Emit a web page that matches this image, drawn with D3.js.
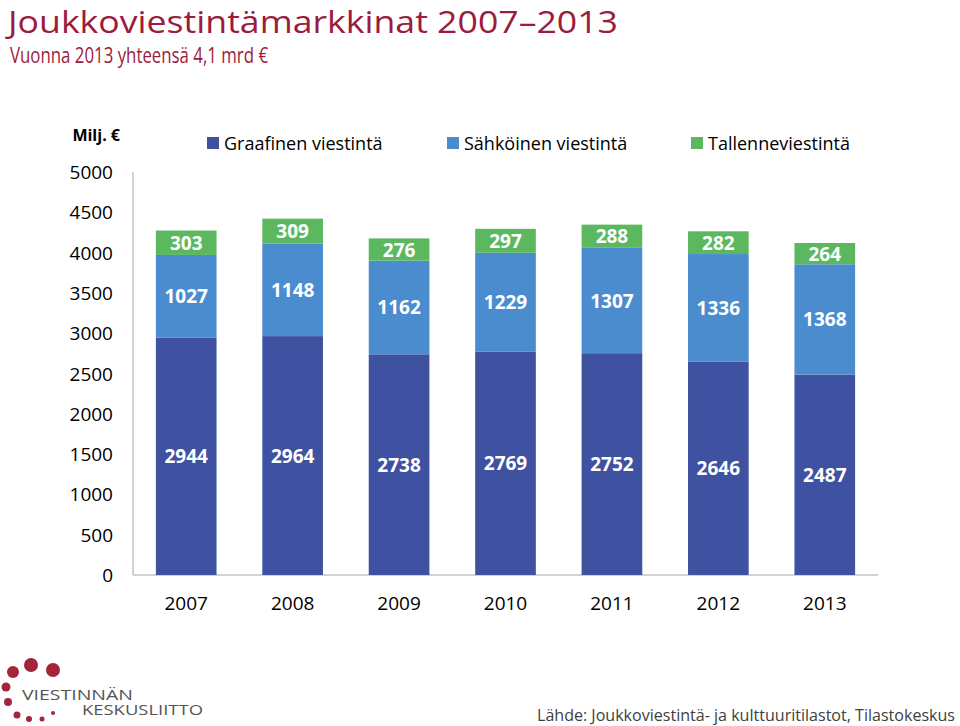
<!DOCTYPE html>
<html>
<head>
<meta charset="utf-8">
<script src="https://cdn.jsdelivr.net/npm/d3@7"></script>
<style>
  body { margin: 0; background: #fff; }
  svg { display: block; font-family: "Open Sans", sans-serif; }
</style>
</head>
<body>
<script>
(function() {
	"use strict";
	const YEARS = ["2007", "2008", "2009", "2010", "2011", "2012", "2013"],
	   GRAAFINEN = [2944, 2964, 2738, 2769, 2752, 2646, 2487],
	   SAHKOINEN = [1027, 1148, 1162, 1229, 1307, 1336, 1368],
	   TALLENNE = [303, 309, 276, 297, 288, 282, 264],
	   SERIES = ["Graafinen viestintä", "Sähköinen viestintä", "Tallenneviestintä"],
	   Y_TICKS = [0, 500, 1000, 1500, 2000, 2500, 3000, 3500, 4000, 4500, 5000];
	const COLORS = ["#3f52a2", "#4b8ccf", "#5cb85f"];

	const svg_w = 960, svg_h = 726;
	const svg = d3.select("body").append("svg").attr("width", svg_w).attr("height", svg_h);

	// title
	svg.append("text").text("Joukkoviestintämarkkinat 2007–2013")
		.attr("x", 8).attr("y", 33).attr("fill", "#9b1c3d")
		.attr("font-size", 31).attr("textLength", 610).attr("lengthAdjust", "spacingAndGlyphs");
	svg.append("text").text("Vuonna 2013 yhteensä 4,1 mrd €")
		.attr("x", 10).attr("y", 63).attr("fill", "#9b1c3d")
		.attr("font-size", 21).attr("textLength", 258).attr("lengthAdjust", "spacingAndGlyphs");

	const left = 133, right = 878, bottom = 575, top = 172;
	const x = d3.scaleBand().domain(YEARS).range([left, right]).paddingInner(0.43).paddingOuter(0.215);
	const y = d3.scaleLinear().domain([0, 5000]).range([bottom, top]);

	const rows = YEARS.map((yr, i) => ({ year: yr, g: GRAAFINEN[i], s: SAHKOINEN[i], t: TALLENNE[i] }));
	const stack = d3.stack().keys(["g", "s", "t"])(rows);

	// axes lines
	svg.append("line").attr("x1", left).attr("x2", left).attr("y1", top).attr("y2", bottom)
		.attr("stroke", "#a6a6a6").attr("stroke-width", 1);
	svg.append("line").attr("x1", left).attr("x2", right).attr("y1", bottom).attr("y2", bottom)
		.attr("stroke", "#a6a6a6").attr("stroke-width", 1);

	svg.selectAll("text.ytick").data(Y_TICKS).enter().append("text")
		.attr("class", "ytick").text(d => d)
		.attr("x", 113).attr("y", d => y(d) + 7)
		.attr("text-anchor", "end").attr("font-size", 19).attr("fill", "#000");

	svg.append("text").text("Milj. €").attr("x", 120).attr("y", 141)
		.attr("text-anchor", "end").attr("font-size", 16).attr("font-weight", "bold");

	// bars
	const layer = svg.selectAll("g.layer").data(stack).enter().append("g")
		.attr("class", "layer").attr("fill", (d, i) => COLORS[i]);
	layer.selectAll("rect").data(d => d).enter().append("rect")
		.attr("x", d => x(d.data.year)).attr("width", x.bandwidth())
		.attr("y", d => y(d[1])).attr("height", d => y(d[0]) - y(d[1]));
	layer.selectAll("text").data(d => d.map(v => ({ v: v, key: d.key }))).enter().append("text")
		.text(d => d.v.data[d.key])
		.attr("x", d => x(d.v.data.year) + x.bandwidth() / 2)
		.attr("y", d => (y(d.v[0]) + y(d.v[1])) / 2 + 7)
		.attr("text-anchor", "middle").attr("fill", "#fff")
		.attr("font-size", 19).attr("font-weight", "bold");

	// x labels
	svg.selectAll("text.xlab").data(YEARS).enter().append("text")
		.attr("class", "xlab").text(d => d)
		.attr("x", d => x(d) + x.bandwidth() / 2).attr("y", 610)
		.attr("text-anchor", "middle").attr("font-size", 19);

	// legend
	const LEG_X = [207, 447, 691];
	const leg = svg.selectAll("g.leg").data(SERIES).enter().append("g").attr("class", "leg");
	leg.append("rect").attr("x", (d, i) => LEG_X[i]).attr("y", 137).attr("width", 12).attr("height", 12)
		.attr("fill", (d, i) => COLORS[i]);
	leg.append("text").text(d => d).attr("x", (d, i) => LEG_X[i] + 17).attr("y", 150)
		.attr("font-size", 18).attr("fill", "#000");

	// logo
	const DOTS = [[13, 672, 6], [31, 665, 7], [53, 670, 7], [6, 687, 4.5], [8, 702, 4], [17, 715, 3.5], [29, 719, 3], [42, 719, 2.5], [53, 713, 2]];
	svg.selectAll("circle.dot").data(DOTS).enter().append("circle")
		.attr("cx", d => d[0]).attr("cy", d => d[1]).attr("r", d => d[2]).attr("fill", "#a3243b");
	svg.append("text").text("VIESTINNÄN").attr("x", 22).attr("y", 700)
		.attr("font-size", 14).attr("fill", "#555").attr("textLength", 111).attr("lengthAdjust", "spacingAndGlyphs");
	svg.append("text").text("KESKUSLIITTO").attr("x", 82).attr("y", 715)
		.attr("font-size", 14).attr("fill", "#555").attr("textLength", 121).attr("lengthAdjust", "spacingAndGlyphs");

	svg.append("text").text("Lähde: Joukkoviestintä- ja kulttuuritilastot, Tilastokeskus")
		.attr("x", 955).attr("y", 721).attr("text-anchor", "end")
		.attr("font-size", 16).attr("fill", "#404040")
		.attr("textLength", 418).attr("lengthAdjust", "spacingAndGlyphs");
}());
</script>
</body>
</html>
